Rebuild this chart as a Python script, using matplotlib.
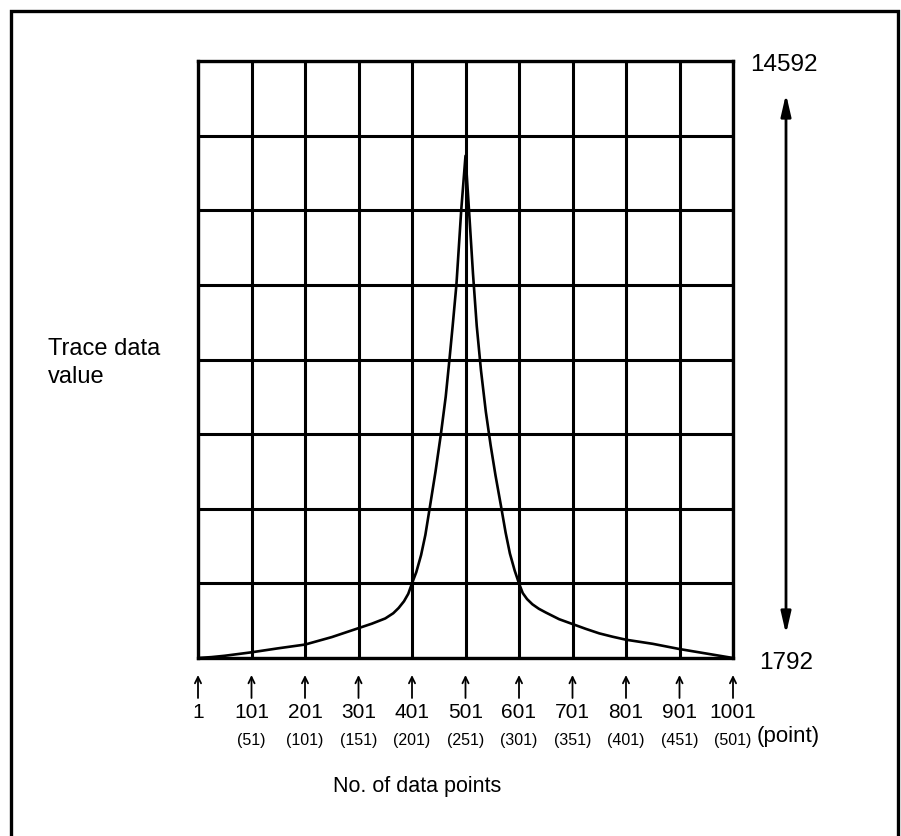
import matplotlib.pyplot as plt
from matplotlib.transforms import blended_transform_factory
from matplotlib.patches import Rectangle

plt.rcParams['font.family'] = ['Liberation Sans', 'DejaVu Sans']

# trace data (point number, trace value)
points = [1, 26, 51, 101, 151, 201, 251, 276, 301, 326, 351, 366, 376, 386, 394,
          401, 409, 418, 426, 435, 445, 455, 464, 471, 477, 484, 493,
          501,
          508, 515, 522, 530, 539, 548, 557, 567, 576, 584, 593,
          601, 608, 616, 626, 638, 651, 676, 701, 726, 751, 776, 801, 851, 901, 951, 1001]
values = [1792, 1811, 1840, 1914, 2000, 2080, 2240, 2336, 2432, 2528, 2640, 2752, 2864, 3008, 3168,
          3392, 3632, 4000, 4432, 5072, 5792, 6592, 7392, 8192, 8912, 9792, 11392,
          12560,
          11312, 10032, 8912, 7952, 7072, 6352, 5712, 5072, 4480, 4032, 3664,
          3392, 3184, 3056, 2944, 2848, 2768, 2624, 2520, 2416, 2320, 2248, 2184, 2096, 1984, 1888, 1792]

tick_points = [1, 101, 201, 301, 401, 501, 601, 701, 801, 901, 1001]
half_labels = ['(51)', '(101)', '(151)', '(201)', '(251)', '(301)', '(351)', '(401)', '(451)', '(501)']
y_min, y_max = 1792, 14592
n_rows = 8

W, H = 901, 837
fig = plt.figure(figsize=(W / 100, H / 100), dpi=100)

def fx(px):
    return px / W

def fy(py):
    return 1 - py / H

# outer frame
fig.patches.append(Rectangle((fx(11), -0.05), fx(898) - fx(11), fy(12) + 0.05,
                             transform=fig.transFigure, fill=False, lw=2.4, ec='black'))

ax = fig.add_axes([fx(198), fy(659), fx(733) - fx(198), fy(62) - fy(659)])
ax.set_xlim(1, 1001)
ax.set_ylim(y_min, y_max)
step = (y_max - y_min) / n_rows
ax.set_xticks(tick_points)
ax.set_yticks([y_min + step * k for k in range(n_rows + 1)])
ax.tick_params(length=0, labelbottom=False, labelleft=False)
ax.grid(True, color='black', lw=2.2)
for s in ax.spines.values():
    s.set_linewidth(2.4)

ax.plot(points, values, color='black', lw=1.9, solid_joinstyle='round')

# tick arrows and labels below the grid
tr = blended_transform_factory(ax.transData, fig.transFigure)
for p in tick_points:
    ax.annotate('', xy=(p, fy(676)), xytext=(p, fy(699)), xycoords=tr, textcoords=tr,
                arrowprops=dict(arrowstyle='->,head_length=0.45,head_width=0.22',
                                lw=1.3, color='black', shrinkA=0, shrinkB=0))
    ax.text(p, fy(713), str(p), transform=tr, ha='center', va='center', fontsize=15)
for p, lab in zip(tick_points[1:], half_labels):
    ax.text(p, fy(741), lab, transform=tr, ha='center', va='center', fontsize=11.5)

fig.text(fx(757), fy(737), '(point)', ha='left', va='center', fontsize=16)
fig.text(fx(417), fy(787), 'No. of data points', ha='center', va='center', fontsize=15.5)

fig.text(fx(48), fy(349), 'Trace data', ha='left', va='center', fontsize=17)
fig.text(fx(48), fy(377), 'value', ha='left', va='center', fontsize=17)

fig.text(fx(750), fy(65), '14592', ha='left', va='center', fontsize=17.5)
fig.text(fx(759), fy(663), '1792', ha='left', va='center', fontsize=17.5)
ax.annotate('', xy=(fx(786), fy(95)), xytext=(fx(786), fy(635)),
            xycoords='figure fraction', textcoords='figure fraction',
            arrowprops=dict(arrowstyle='<|-|>,head_length=1.3,head_width=0.3',
                            lw=2, color='black', shrinkA=0, shrinkB=0))

fig.savefig('out.png', dpi=100)
